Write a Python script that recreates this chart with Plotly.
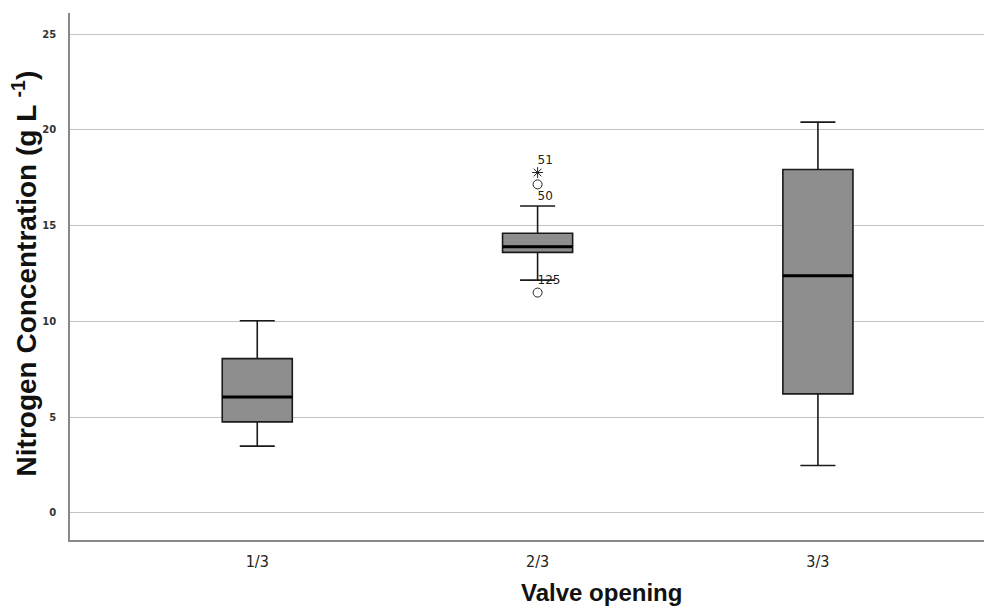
import plotly.graph_objects as go

categories = ["1/3", "2/3", "3/3"]
lower_whisker = [3.48, 12.15, 2.47]
q1 = [4.75, 13.6, 6.21]
median = [6.05, 13.9, 12.38]
q3 = [8.05, 14.6, 17.93]
upper_whisker = [10.03, 16.02, 20.4]

outlier_cat = [1, 1, 1]
outlier_val = [17.15, 17.77, 11.5]
outlier_kind = ["circle-open", "asterisk-open", "circle-open"]
outlier_label = ["50", "51", "125"]
outlier_label_y = [16.47, 18.35, 12.13]

y_ticks = [0, 5, 10, 15, 20, 25]

positions = list(range(len(categories)))
box_width = 0.25

fig = go.Figure()
for i, cat in enumerate(categories):
    fig.add_trace(go.Box(
        x=[positions[i]], q1=[q1[i]], median=[median[i]], q3=[q3[i]],
        lowerfence=[lower_whisker[i]], upperfence=[upper_whisker[i]],
        width=box_width, whiskerwidth=0.5,
        fillcolor="#8e8e8e", line=dict(color="#1a1a1a", width=1.6),
        boxpoints=False, showlegend=False, hoverinfo="skip"))
    fig.add_trace(go.Scatter(
        x=[positions[i] - box_width / 2, positions[i] + box_width / 2],
        y=[median[i], median[i]], mode="lines",
        line=dict(color="#000000", width=3), showlegend=False, hoverinfo="skip"))

fig.add_trace(go.Scatter(
    x=outlier_cat, y=outlier_val, mode="markers",
    marker=dict(symbol=outlier_kind, size=9, color="#222222", line=dict(width=1, color="#222222")),
    showlegend=False, hoverinfo="skip"))

fig.add_trace(go.Scatter(
    x=outlier_cat, y=outlier_label_y, mode="text", text=outlier_label,
    textposition="middle right",
    textfont=dict(family="DejaVu Sans", size=12, color="#222222"),
    showlegend=False, hoverinfo="skip"))

fig.update_layout(
    width=984, height=600,
    margin=dict(l=62, r=0, t=5, b=68),
    paper_bgcolor="white", plot_bgcolor="white",
    xaxis=dict(
        range=[-0.668, 2.621], tickvals=positions, ticktext=categories,
        showgrid=False, zeroline=False, showline=True, linecolor="#888888", linewidth=1.5,
        ticks="", ticklabelstandoff=6,
        tickfont=dict(family="DejaVu Sans Condensed, Liberation Sans", size=16, color="#222222"),
    ),
    yaxis=dict(
        range=[-1.42, 26.1], tickvals=y_ticks,
        showgrid=True, gridcolor="#c4c4c4", gridwidth=1.3, zeroline=False,
        showline=True, linecolor="#888888", linewidth=1.5,
        ticks="", ticklabelstandoff=10,
        tickfont=dict(family="DejaVu Sans", size=10, color="#333333", weight="bold"),
    ),
    annotations=[
        dict(text="<b>Valve opening</b>", xref="x", yref="paper", x=1.229, y=0,
             yshift=-52, showarrow=False, xanchor="center", yanchor="middle",
             font=dict(family="Liberation Sans", size=24, color="#111111")),
        dict(text="<b>Nitrogen Concentration (g L <sup>-1</sup>)</b>", xref="paper", yref="y",
             x=0, xshift=-45, y=12.5, showarrow=False, textangle=-90,
             xanchor="center", yanchor="middle", borderpad=0,
             font=dict(family="Liberation Sans", size=28, color="#111111")),
    ],
)

fig.write_html("out.html")
